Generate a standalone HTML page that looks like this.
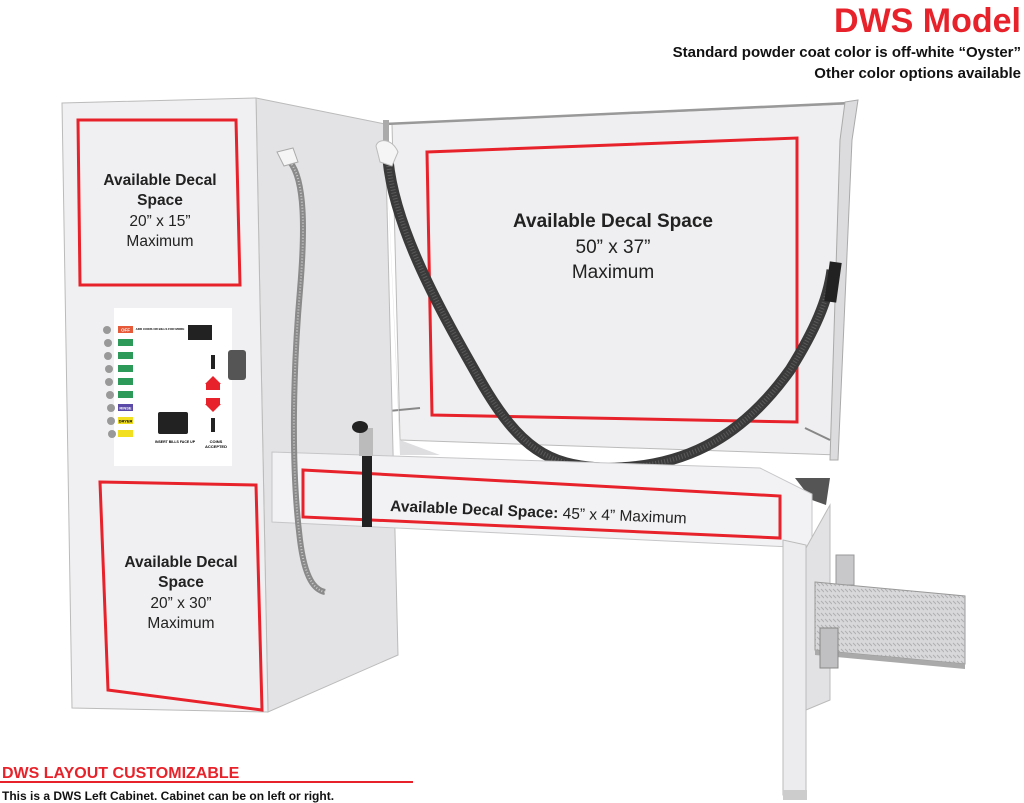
<!DOCTYPE html>
<html><head><meta charset="utf-8"><style>
html,body{margin:0;padding:0;background:#fff;}
svg{display:block;font-family:"Liberation Sans",sans-serif;}
</style></head><body>
<svg width="1024" height="803" viewBox="0 0 1024 803" xmlns="http://www.w3.org/2000/svg">
<defs>
<pattern id="dia" width="8" height="6" patternUnits="userSpaceOnUse">
<rect width="8" height="6" fill="#d8d8da"/>
<path d="M1,1 L4,4 M5,1 L8,4" stroke="#b0b0b2" stroke-width="1"/>
</pattern>
</defs>
<rect width="1024" height="803" fill="#fff"/>
<!-- back wall -->
<polygon points="392,124 848,104 838,455 400,440" fill="#efeff1" stroke="#bbb" stroke-width="1"/>
<line x1="385" y1="124" x2="850" y2="103" stroke="#999" stroke-width="2.5"/>
<!-- right side wall -->
<polygon points="845,102 858,100 852,140 838,460 830,460 840,140" fill="#dcdcde" stroke="#aaa" stroke-width="1"/>
<!-- large red box -->
<polygon points="427,152 797,138 797,422 432,415" fill="none" stroke="#e8222a" stroke-width="3"/>
<text x="613" y="227" font-size="19" font-weight="bold" text-anchor="middle" fill="#222">Available Decal Space</text>
<text x="613" y="253" font-size="19" text-anchor="middle" fill="#222">50” x 37”</text>
<text x="613" y="278" font-size="19" text-anchor="middle" fill="#222">Maximum</text>
<!-- rods -->
<line x1="378" y1="412" x2="420" y2="408" stroke="#888" stroke-width="2"/>
<line x1="805" y1="428" x2="830" y2="440" stroke="#888" stroke-width="2"/>
<!-- tub inner dark corner -->
<polygon points="795,478 830,478 826,505 812,500" fill="#555"/>
<!-- cabinet side -->
<polygon points="256,98 385,124 398,655 268,712" fill="#e3e3e5" stroke="#bbb"/>
<polygon points="385,124 400,440 440,455 400,455" fill="#dedee0"/>
<!-- black hose -->
<path d="M388,160 C395,230 440,310 480,380 C520,450 550,465 600,468 C680,470 740,440 790,370 C815,330 828,300 832,270" fill="none" stroke="#3a3a3a" stroke-width="11"/>
<path d="M388,160 C395,230 440,310 480,380 C520,450 550,465 600,468 C680,470 740,440 790,370 C815,330 828,300 832,270" fill="none" stroke="#5a5a5a" stroke-width="5" stroke-dasharray="1 2"/>
<rect x="827" y="262" width="12" height="40" fill="#222" transform="rotate(8 833 282)"/>
<rect x="383" y="120" width="6" height="22" fill="#aaa"/>
<path d="M376,146 C378,138 392,138 398,152 L392,166 L380,162 Z" fill="#f5f5f5" stroke="#bbb"/>
<!-- tub front panel -->
<polygon points="272,452 760,468 812,494 812,548 272,522" fill="#f2f2f4" stroke="#c6c6c8" stroke-width="1"/>
<polygon points="303,470 780,496 780,538 303,517" fill="none" stroke="#e8222a" stroke-width="3"/>
<text transform="translate(390,511) rotate(2.4)" font-size="15.5" fill="#222"><tspan font-weight="bold">Available Decal Space:</tspan> 45” x 4” Maximum</text>
<!-- right leg -->
<polygon points="806,548 830,505 830,700 806,710" fill="#e2e2e4" stroke="#bbb"/>
<polygon points="783,540 806,545 806,795 783,795" fill="#ececee" stroke="#bbb"/>
<rect x="783" y="790" width="24" height="10" fill="#ccc"/>
<!-- step plate -->
<rect x="836" y="555" width="18" height="30" fill="#c8c8ca" stroke="#999"/>
<polygon points="815,582 965,596 965,664 815,650" fill="url(#dia)" stroke="#999"/>
<polygon points="815,650 965,664 965,669 815,655" fill="#aaa"/>
<rect x="820" y="628" width="18" height="40" fill="#c0c0c2" stroke="#888"/>
<!-- faucet -->
<rect x="362" y="452" width="10" height="75" fill="#222"/>
<rect x="359" y="428" width="14" height="28" fill="#bbb"/>
<ellipse cx="360" cy="427" rx="8" ry="6" fill="#222"/>
<!-- gray hose -->
<path d="M290,162 C305,180 305,230 300,290 C294,360 290,460 300,540 C305,580 315,590 325,592" fill="none" stroke="#8a8a8a" stroke-width="6"/>
<path d="M290,162 C305,180 305,230 300,290 C294,360 290,460 300,540 C305,580 315,590 325,592" fill="none" stroke="#c8c8c8" stroke-width="2" stroke-dasharray="1 2"/>
<path d="M277,152 L293,148 L298,162 L284,166 Z" fill="#f5f5f5" stroke="#aaa"/>
<!-- cabinet front -->
<polygon points="62,103 256,98 268,712 72,708" fill="#f0f0f2" stroke="#bbb"/>
<polygon points="78,120 236,120 240,285 80,285" fill="none" stroke="#e8222a" stroke-width="3"/>
<text x="160" y="185" font-size="15.5" font-weight="bold" text-anchor="middle" fill="#222">Available Decal</text>
<text x="160" y="205" font-size="15.5" font-weight="bold" text-anchor="middle" fill="#222">Space</text>
<text x="160" y="226" font-size="15.5" text-anchor="middle" fill="#222">20” x 15”</text>
<text x="160" y="246" font-size="15.5" text-anchor="middle" fill="#222">Maximum</text>
<polygon points="100,482 256,485 262,710 108,690" fill="none" stroke="#e8222a" stroke-width="3"/>
<text x="181" y="567" font-size="15.5" font-weight="bold" text-anchor="middle" fill="#222">Available Decal</text>
<text x="181" y="587" font-size="15.5" font-weight="bold" text-anchor="middle" fill="#222">Space</text>
<text x="181" y="608" font-size="15.5" text-anchor="middle" fill="#222">20” x 30”</text>
<text x="181" y="628" font-size="15.5" text-anchor="middle" fill="#222">Maximum</text>
<!-- control panel -->
<rect x="114" y="308" width="118" height="158" fill="#fff"/>
<rect x="188" y="325" width="24" height="15" fill="#222"/>
<text x="160" y="330" font-size="3" font-weight="bold" text-anchor="middle">ADD COINS OR BILLS FOR MORE</text>
<rect x="158" y="412" width="30" height="22" rx="2" fill="#222"/>
<rect x="211" y="355" width="4" height="14" fill="#222"/>
<rect x="211" y="418" width="4" height="14" fill="#222"/>
<polygon points="213,376 221,384 205,384" fill="#e8222a"/>
<rect x="206" y="384" width="14" height="6" fill="#e8222a"/>
<polygon points="213,412 221,404 205,404" fill="#e8222a"/>
<rect x="206" y="398" width="14" height="6" fill="#e8222a"/>
<text x="175" y="443" font-size="3.5" font-weight="bold" text-anchor="middle">INSERT BILLS FACE UP</text>
<text x="216" y="443" font-size="4" font-weight="bold" text-anchor="middle">COINS</text>
<text x="216" y="448" font-size="4" font-weight="bold" text-anchor="middle">ACCEPTED</text>
<g fill="#999">
<circle cx="107" cy="330" r="4"/><circle cx="108" cy="343" r="4"/><circle cx="108" cy="356" r="4"/><circle cx="109" cy="369" r="4"/><circle cx="109" cy="382" r="4"/><circle cx="110" cy="395" r="4"/><circle cx="111" cy="408" r="4"/><circle cx="111" cy="421" r="4"/><circle cx="112" cy="434" r="4"/>
</g>
<rect x="118" y="326" width="15" height="7" fill="#e65a3a"/>
<text x="125.5" y="331.5" font-size="4.5" fill="#fff" text-anchor="middle" font-weight="bold">OFF</text>
<rect x="118" y="339" width="15" height="7" fill="#2e9a5a"/>
<rect x="118" y="352" width="15" height="7" fill="#2e9a5a"/>
<rect x="118" y="365" width="15" height="7" fill="#2e9a5a"/>
<rect x="118" y="378" width="15" height="7" fill="#2e9a5a"/>
<rect x="118" y="391" width="15" height="7" fill="#2e9a5a"/>
<rect x="118" y="404" width="15" height="7" fill="#5b4aa8"/>
<text x="125.5" y="409.5" font-size="4" fill="#fff" text-anchor="middle" font-weight="bold">RINSE</text>
<rect x="118" y="417" width="15" height="7" fill="#f2e020"/>
<text x="125.5" y="422.5" font-size="4" text-anchor="middle" font-weight="bold">DRYER</text>
<rect x="118" y="430" width="15" height="7" fill="#f2e020"/>
<rect x="228" y="350" width="18" height="30" rx="3" fill="#555"/>
<!-- Header text -->
<text x="1021" y="32" font-size="34" font-weight="bold" text-anchor="end" fill="#e8222a">DWS Model</text>
<text x="1021" y="57" font-size="15" font-weight="bold" text-anchor="end" fill="#111">Standard powder coat color is off-white “Oyster”</text>
<text x="1021" y="78" font-size="15" font-weight="bold" text-anchor="end" fill="#111">Other color options available</text>
<!-- footer -->
<text x="2" y="778" font-size="16" font-weight="bold" fill="#e8222a">DWS LAYOUT CUSTOMIZABLE</text>
<rect x="0" y="781" width="413" height="2" fill="#e8222a"/>
<text x="2" y="800" font-size="12" font-weight="bold" fill="#111">This is a DWS Left Cabinet. Cabinet can be on left or right.</text>
</svg>
</body></html>
